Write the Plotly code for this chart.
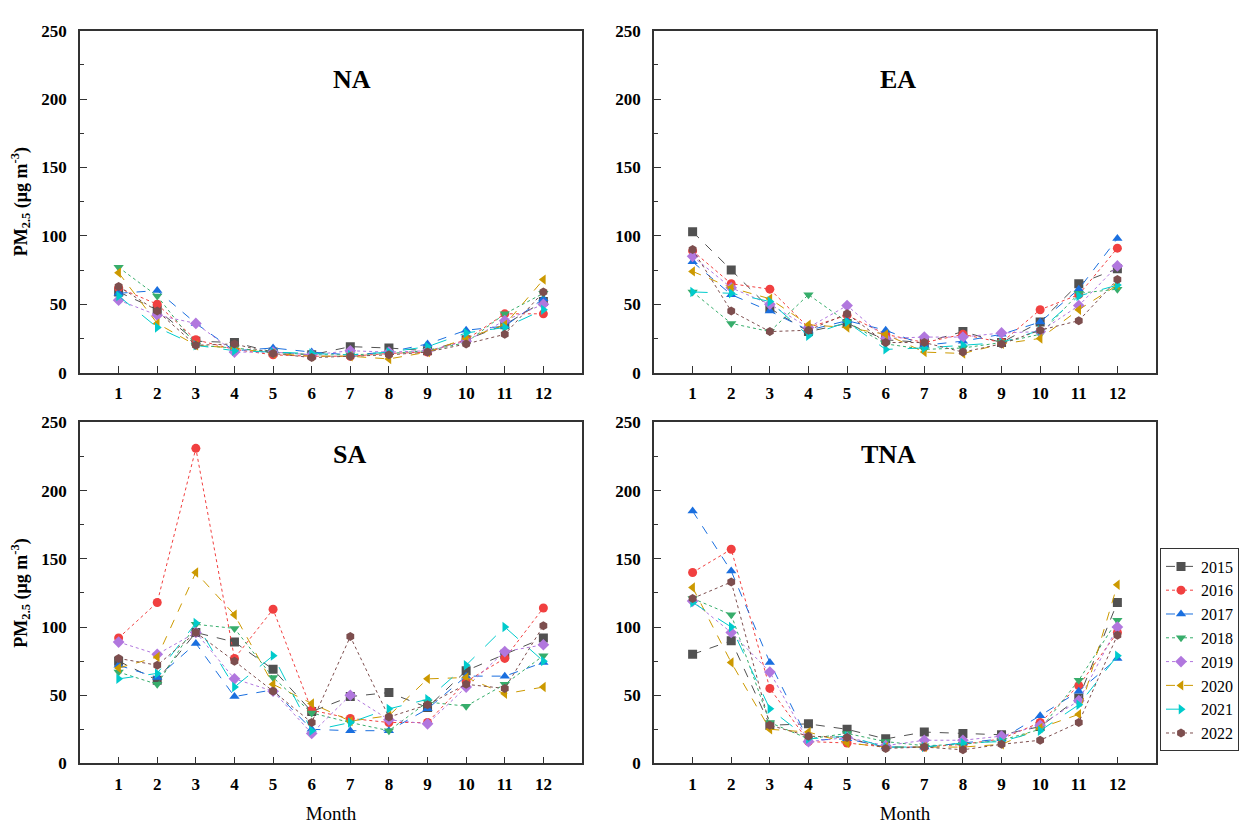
import plotly.graph_objects as go

months = list(range(1, 13))
years = ["2015", "2016", "2017", "2018", "2019", "2020", "2021", "2022"]
regions = ["NA", "EA", "SA", "TNA"]

# PM2.5 monthly means per region, one list per year
na_2015 = [59, 46, 23, 22, 15, 13, 19, 18, 16, 24, 35, 52]
na_2016 = [62, 50, 24, 17, 13, 12, 12, 14, 15, 24, 43, 43]
na_2017 = [58, 60, 36, 16, 18, 15, 13, 15, 21, 31, 34, 54]
na_2018 = [77, 56, 20, 18, 15, 13, 13, 14, 16, 22, 43, 58]
na_2019 = [53, 42, 36, 15, 15, 13, 16, 15, 16, 23, 38, 50]
na_2020 = [73, 36, 20, 18, 14, 12, 12, 10, 15, 25, 35, 68]
na_2021 = [56, 33, 20, 16, 15, 14, 13, 15, 19, 29, 33, 46]
na_2022 = [63, 45, 20, 21, 14, 11, 12, 13, 15, 21, 28, 59]

ea_2015 = [103, 75, 47, 30, 36, 24, 22, 30, 22, 37, 65, 76]
ea_2016 = [89, 65, 61, 33, 42, 28, 22, 28, 22, 46, 57, 91]
ea_2017 = [81, 57, 45, 31, 38, 31, 20, 23, 28, 37, 61, 98]
ea_2018 = [59, 36, 30, 57, 37, 21, 17, 18, 22, 28, 58, 61]
ea_2019 = [85, 62, 50, 33, 49, 25, 26, 26, 29, 30, 49, 78]
ea_2020 = [74, 62, 54, 35, 33, 28, 15, 14, 21, 25, 46, 64]
ea_2021 = [59, 58, 52, 27, 37, 17, 18, 20, 22, 31, 56, 64]
ea_2022 = [90, 45, 30, 31, 43, 22, 22, 15, 21, 31, 38, 68]

sa_2015 = [75, 61, 96, 89, 69, 38, 49, 52, 41, 68, 80, 92]
sa_2016 = [92, 118, 231, 77, 113, 39, 33, 30, 30, 60, 77, 114]
sa_2017 = [72, 63, 88, 49, 54, 25, 24, 24, 40, 64, 64, 74]
sa_2018 = [67, 58, 102, 99, 63, 37, 30, 24, 45, 42, 58, 79]
sa_2019 = [89, 80, 96, 62, 53, 22, 50, 32, 29, 56, 82, 87]
sa_2020 = [70, 78, 140, 109, 58, 44, 31, 35, 62, 63, 51, 56]
sa_2021 = [62, 66, 103, 56, 79, 24, 30, 40, 47, 72, 100, 75]
sa_2022 = [77, 72, 96, 75, 53, 30, 93, 34, 43, 58, 55, 101]

tna_2015 = [80, 90, 28, 29, 25, 18, 23, 22, 21, 27, 48, 118]
tna_2016 = [140, 157, 55, 16, 15, 12, 12, 14, 18, 30, 57, 96]
tna_2017 = [185, 141, 74, 17, 18, 12, 12, 15, 18, 35, 53, 77]
tna_2018 = [121, 109, 30, 18, 22, 16, 13, 14, 17, 25, 61, 105]
tna_2019 = [119, 96, 67, 16, 19, 13, 17, 17, 20, 28, 46, 100]
tna_2020 = [129, 74, 25, 23, 15, 12, 12, 12, 14, 26, 36, 131]
tna_2021 = [118, 100, 40, 18, 20, 12, 12, 15, 16, 24, 43, 79]
tna_2022 = [121, 133, 28, 20, 19, 11, 12, 10, 14, 17, 30, 94]

data = {
    "NA": [na_2015, na_2016, na_2017, na_2018, na_2019, na_2020, na_2021, na_2022],
    "EA": [ea_2015, ea_2016, ea_2017, ea_2018, ea_2019, ea_2020, ea_2021, ea_2022],
    "SA": [sa_2015, sa_2016, sa_2017, sa_2018, sa_2019, sa_2020, sa_2021, sa_2022],
    "TNA": [tna_2015, tna_2016, tna_2017, tna_2018, tna_2019, tna_2020, tna_2021, tna_2022],
}

colors = ["#515151", "#F14040", "#1A6FDF", "#37AD6B", "#B177DE", "#CC9900", "#00CBCC", "#7D4E4E"]
symbols = ["square", "circle", "triangle-up", "triangle-down", "diamond",
           "triangle-left", "triangle-right", "hexagon"]
dashes = ["dash", "dot", "dash", "dot", "dot", "dash", "longdash", "dot"]

W, H = 1260, 826
# panel boxes in pixels: (x0, x1, y_top, y_bottom)
boxes = [(72, 574, 14, 364), (646, 1148, 14, 364),
         (72, 574, 415, 764), (646, 1148, 415, 764)]

serif = "Liberation Serif"
fig = go.Figure()

for i, reg in enumerate(regions):
    ax = "" if i == 0 else str(i + 1)
    for j, yr in enumerate(years):
        fig.add_trace(go.Scatter(
            x=months, y=data[reg][j], name=yr, mode="lines+markers",
            xaxis="x" + ax, yaxis="y" + ax,
            line=dict(color=colors[j], width=1, dash=dashes[j]),
            marker=dict(symbol=symbols[j], size=9, color=colors[j]),
            showlegend=(i == 0), legendgroup=yr,
        ))
    x0, x1, yt, yb = boxes[i]
    axis_common = dict(showline=True, linecolor="#333", linewidth=1.5, mirror=True,
                       ticks="inside", tickcolor="#333", showgrid=False, zeroline=False,
                       tickfont=dict(family=serif, size=17, color="black", weight="bold"))
    xaxis = dict(axis_common, domain=[x0 / W, x1 / W], range=[0, 13],
                 tickvals=months, ticklen=7, anchor="y" + ax, ticklabelstandoff=4)
    yaxis = dict(axis_common, domain=[1 - yb / H, 1 - yt / H], range=[0, 250],
                 dtick=50, ticklen=7, anchor="x" + ax, ticklabelstandoff=8,
                 minor=dict(dtick=25, ticks="inside", ticklen=4, tickcolor="#333"))
    if i >= 2:
        xaxis["title"] = dict(text="Month", font=dict(family=serif, size=19, color="black"),
                              standoff=14)
    if i % 2 == 0:
        yaxis["title"] = dict(text="<b>PM<sub>2.5</sub> (μg m<sup>-3</sup>)</b>",
                              font=dict(family=serif, size=18, color="black"), standoff=10)
    fig.update_layout(**{"xaxis" + ax: xaxis, "yaxis" + ax: yaxis})
    fig.add_annotation(text="<b>%s</b>" % reg, x=(x0 + x1) / 2 / W + 0.01 * (1 if i % 2 else 0),
                       y=1 - (yt + 33) / H, xref="paper", yref="paper", showarrow=False,
                       font=dict(family=serif, size=26, color="black"))

fig.update_layout(
    width=W, height=H, margin=dict(l=0, r=0, t=0, b=0),
    plot_bgcolor="white", paper_bgcolor="white",
    legend=dict(x=1152 / W, y=1 - 544 / H, xanchor="left", yanchor="top",
                bordercolor="#333", borderwidth=1, tracegroupgap=0,
                font=dict(family=serif, size=16, color="black"), itemwidth=30),
)

fig.write_html("out.html")
